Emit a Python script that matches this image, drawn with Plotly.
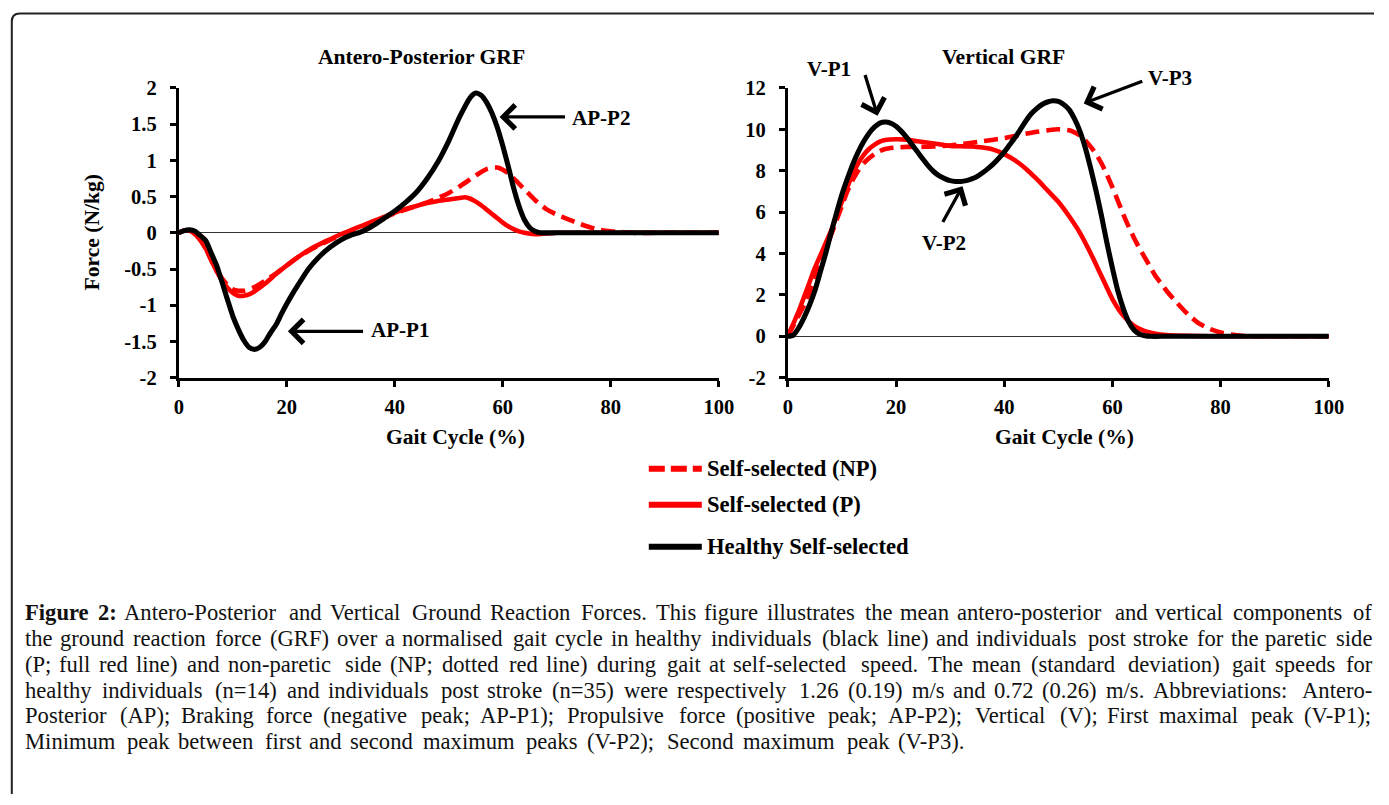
import plotly.graph_objects as go

W, H = 1389, 805
SERIF = "Liberation Serif, Times New Roman, serif"
RED = "#FF0000"

# ---------------- data ----------------
# Antero-posterior GRF (N/kg) vs gait cycle (%)
ap_h_x = [0, 1, 2, 3, 4, 5, 6, 7, 8, 9, 10, 11, 12, 13, 14, 15, 16, 17, 18, 19, 20, 21, 22,
          24, 26, 28, 30, 32, 34, 36, 38, 40, 42, 44, 46, 48, 50, 52, 54,
          55, 56, 57, 58, 59, 60, 61, 62, 63, 64, 65, 66, 67, 70, 80, 90, 100]
ap_healthy = [0, 0.03, 0.04, 0.02, -0.04, -0.11, -0.28, -0.45, -0.68, -0.92, -1.15, -1.33, -1.48, -1.58,
              -1.61, -1.58, -1.5, -1.38, -1.27, -1.12, -0.98, -0.85, -0.73,
              -0.5, -0.33, -0.2, -0.1, -0.03, 0.02, 0.1, 0.2, 0.3, 0.42, 0.56, 0.75, 0.98, 1.27, 1.6, 1.87,
              1.93, 1.9, 1.8, 1.65, 1.45, 1.2, 0.92, 0.62, 0.37, 0.18, 0.07, 0.02, 0, 0, 0, 0, 0]

ap_p_x = [0, 1, 2, 3, 4, 5, 6, 7, 8, 9, 10, 11, 12, 13, 14,
          16, 18, 20, 22, 24, 26, 28, 30, 32, 34, 36, 38, 40, 42, 44, 46, 48, 50, 52,
          53, 54, 55, 56, 57, 58, 59, 60, 61, 62, 63, 64, 66, 68, 70, 80, 90, 100]
ap_paretic = [0, 0.03, 0.03, -0.02, -0.1, -0.22, -0.38, -0.53, -0.66, -0.76, -0.83, -0.87, -0.87, -0.85, -0.81,
              -0.7, -0.57, -0.45, -0.34, -0.24, -0.16, -0.09, -0.02, 0.04, 0.1, 0.16, 0.22, 0.28, 0.33, 0.37,
              0.41, 0.44, 0.46, 0.48,
              0.49, 0.47, 0.43, 0.38, 0.32, 0.26, 0.2, 0.14, 0.09, 0.05, 0.02, 0.0, -0.02, -0.01, 0, 0, 0, 0]

ap_np_x = [0, 1, 2, 3, 4, 5, 6, 7, 8, 9, 10, 11, 12, 13, 14,
           16, 18, 20, 22, 24, 26, 28, 30, 32, 34, 36, 38, 40, 42, 44, 46, 48, 50, 52, 54, 56,
           57, 58, 59, 60, 61, 62, 64, 66, 68, 70, 72, 74, 76, 78, 80, 82, 84, 90, 100]
ap_nonparetic = [0, 0.03, 0.03, -0.02, -0.1, -0.22, -0.37, -0.51, -0.63, -0.72, -0.78, -0.8, -0.8, -0.78, -0.75,
                 -0.66, -0.56, -0.45, -0.34, -0.25, -0.17, -0.1, -0.03, 0.03, 0.09, 0.15, 0.21, 0.27, 0.32,
                 0.37, 0.42, 0.48, 0.55, 0.64, 0.74, 0.84,
                 0.88, 0.9, 0.9, 0.87, 0.82, 0.75, 0.6, 0.45, 0.33, 0.25, 0.19, 0.13, 0.08, 0.04, 0.02, 0.01,
                 0, 0, 0]

# Vertical GRF (N/kg) vs gait cycle (%)
v_h_x = [0, 1, 2, 3, 4, 5, 6, 7, 8, 9, 10, 11, 12, 13, 14, 15, 16, 17, 18, 19, 20, 21, 22, 23, 24,
         25, 26, 27, 28, 29, 30, 31, 32, 33, 34, 35, 36, 37, 38, 39, 40, 41, 42, 43, 44, 45, 46, 47,
         48, 49, 50, 51, 52, 53, 54, 55, 56, 57, 58, 59, 60, 61, 62, 63, 64, 65, 66, 67, 70, 80, 90, 100]
v_healthy = [0, 0.05, 0.4, 0.9, 1.5, 2.2, 3.1, 4.0, 5.0, 5.95, 6.85, 7.6, 8.3, 8.9, 9.4, 9.8, 10.1, 10.3,
             10.35, 10.3, 10.15, 9.9, 9.6, 9.25, 8.9,
             8.55, 8.22, 7.95, 7.75, 7.62, 7.52, 7.48, 7.48, 7.52, 7.6, 7.72, 7.9, 8.1, 8.33, 8.6, 8.9,
             9.25, 9.6, 10.0, 10.4, 10.75, 11.0, 11.2,
             11.32, 11.38, 11.35, 11.2, 10.95, 10.5, 9.9, 9.1, 8.1, 7.0, 5.8, 4.5, 3.3, 2.2, 1.35, 0.7,
             0.3, 0.1, 0.03, 0, 0, 0, 0, 0]

v_p_x = [0, 1, 2, 3, 4, 5, 6, 7, 8, 9, 10, 11, 12, 13, 14, 15, 16, 17, 18,
         20, 22, 24, 26, 28, 30, 32, 34, 36, 38, 40, 42, 44, 46, 48, 50, 52, 54, 56, 58, 60, 62, 64,
         66, 68, 70, 74, 78, 90, 100]
v_paretic = [0, 0.6, 1.2, 1.9, 2.6, 3.3, 3.9, 4.5, 5.1, 5.8, 6.5, 7.2, 7.85, 8.35, 8.75, 9.05, 9.25, 9.4, 9.48,
             9.52, 9.5, 9.42, 9.35, 9.28, 9.2, 9.18, 9.17, 9.12, 9.02, 8.8, 8.5, 8.1, 7.6, 7.05, 6.5, 5.8,
             5.0, 4.0, 2.9, 1.8, 1.0, 0.5, 0.25, 0.12, 0.06, 0.02, 0, 0, 0]

v_np_x = [0, 1, 2, 3, 4, 5, 6, 7, 8, 9, 10, 11, 12, 13, 14, 15, 16, 17, 18,
          20, 22, 24, 26, 28, 30, 32, 34, 36, 38, 40, 42, 44, 46, 48, 50,
          52, 53, 54, 55, 56, 57, 58, 59, 60, 61, 62, 63, 64, 65, 66, 67, 68, 69, 70,
          72, 74, 76, 78, 80, 82, 84, 86, 90, 100]
v_nonparetic = [0, 0.5, 1.0, 1.5, 2.1, 2.8, 3.5, 4.2, 4.9, 5.6, 6.3, 7.0, 7.55, 8.0, 8.35, 8.6, 8.8, 8.95, 9.05,
                9.12, 9.15, 9.15, 9.16, 9.18, 9.22, 9.28, 9.35, 9.42, 9.5, 9.58, 9.68, 9.78, 9.88, 9.95, 10.0,
                9.95, 9.85, 9.7, 9.45, 9.15, 8.8, 8.35, 7.8, 7.2, 6.55, 5.9, 5.3, 4.75, 4.25, 3.8, 3.35, 2.9,
                2.55, 2.2,
                1.6, 1.05, 0.62, 0.35, 0.18, 0.08, 0.02, 0, 0, 0]

series_names = ["Self-selected (NP)", "Self-selected (P)", "Healthy Self-selected"]

x_ticks = [0, 20, 40, 60, 80, 100]
x_tick_labels = ["0", "20", "40", "60", "80", "100"]
ap_ticks = [-2, -1.5, -1, -0.5, 0, 0.5, 1, 1.5, 2]
ap_tick_labels = ["-2", "-1.5", "-1", "-0.5", "0", "0.5", "1", "1.5", "2"]
v_ticks = [-2, 0, 2, 4, 6, 8, 10, 12]
v_tick_labels = ["-2", "0", "2", "4", "6", "8", "10", "12"]
ap_range = [-2, 2]
v_range = [-2, 12]
x_range = [0, 100]

chart_titles = ["Antero-Posterior GRF", "Vertical GRF"]
x_title = "Gait Cycle (%)"
y_title = "Force (N/kg)"

# peak labels: (label, text x, text y, arrow tail x, tail y, head x, head y)
ap_peaks = [("AP-P2", 72.4, 1.58, 71.8, 1.6, 59.4, 1.6),
            ("AP-P1", 35.2, -1.34, 34.4, -1.36, 20.2, -1.36)]
v_peaks = [("V-P1", 7.7, 12.9, 14.2, 12.7, 16.6, 10.65),
           ("V-P2", 28.9, 4.5, 28.5, 5.45, 32.3, 7.25),
           ("V-P3", 70.6, 12.48, 65.8, 12.35, 54.7, 11.25)]

caption_lines = [
    "Figure 2: Antero-Posterior and Vertical Ground Reaction Forces. This figure illustrates the mean antero-posterior and vertical components of",
    "the ground reaction force (GRF) over a normalised gait cycle in healthy individuals (black line) and individuals post stroke for the paretic side",
    "(P; full red line) and non-paretic side (NP; dotted red line) during gait at self-selected speed. The mean (standard deviation) gait speeds for",
    "healthy individuals (n=14) and individuals post stroke (n=35) were respectively 1.26 (0.19) m/s and 0.72 (0.26) m/s. Abbreviations: Antero-",
    "Posterior (AP); Braking force (negative peak; AP-P1); Propulsive force (positive peak; AP-P2); Vertical (V); First maximal peak (V-P1);",
    "Minimum peak between first and second maximum peaks (V-P2); Second maximum peak (V-P3).",
]

for xs, ys in [(ap_h_x, ap_healthy), (ap_p_x, ap_paretic), (ap_np_x, ap_nonparetic),
               (v_h_x, v_healthy), (v_p_x, v_paretic), (v_np_x, v_nonparetic)]:
    assert len(xs) == len(ys), (len(xs), len(ys))

# ---------------- helpers ----------------
# the photographed page is mapped onto the picture with a small offset/scale;
# positions below are given in picture pixels and converted to page pixels.
TX0, TSX = 5.2, 0.9856
TY0, TSY = 11.4, 0.9725
FS = 1.0 / TSY


def px2x(p):
    return ((p - TX0) / TSX) / W


def px2y(p):
    return 1 - ((p - TY0) / TSY) / H


fig = go.Figure()


def add_line(xs, ys, xa, ya, color, dash, width):
    fig.add_trace(go.Scatter(
        x=xs, y=ys, xaxis=xa, yaxis=ya, mode="lines",
        line=dict(color=color, width=width, dash=dash, shape="spline", smoothing=0.6),
        showlegend=False, hoverinfo="skip"))


DASH = "14px,7px"
add_line(ap_np_x, ap_nonparetic, "x", "y", RED, DASH, 4.6)
add_line(ap_p_x, ap_paretic, "x", "y", RED, "solid", 4.6)
add_line(ap_h_x, ap_healthy, "x", "y", "black", "solid", 5.1)
add_line(v_np_x, v_nonparetic, "x2", "y2", RED, DASH, 4.6)
add_line(v_p_x, v_paretic, "x2", "y2", RED, "solid", 4.6)
add_line(v_h_x, v_healthy, "x2", "y2", "black", "solid", 5.1)

TICKFONT = dict(family=SERIF, size=20 * FS, color="black", weight="bold")
axis_common = dict(showline=True, linecolor="black", linewidth=3, ticks="outside", ticklen=6,
                   tickwidth=3, tickcolor="black", showgrid=False, tickfont=TICKFONT,
                   fixedrange=True)
ydom = [px2y(378), px2y(88.3)]

fig.update_layout(
    width=W, height=H, margin=dict(l=0, r=0, t=0, b=0),
    paper_bgcolor="white", plot_bgcolor="white", showlegend=False,
    xaxis=dict(domain=[px2x(179), px2x(719)], range=x_range, anchor="y", tickvals=x_ticks,
               ticktext=x_tick_labels, zeroline=False, ticklabelstandoff=3, **axis_common),
    yaxis=dict(domain=ydom, range=ap_range, anchor="x", tickvals=ap_ticks, ticktext=ap_tick_labels,
               zeroline=True, zerolinecolor="#333", zerolinewidth=1, ticklabelstandoff=9,
               **axis_common),
    xaxis2=dict(domain=[px2x(788), px2x(1329)], range=x_range, anchor="y2", tickvals=x_ticks,
                ticktext=x_tick_labels, zeroline=False, ticklabelstandoff=3, **axis_common),
    yaxis2=dict(domain=ydom, range=v_range, anchor="x2", tickvals=v_ticks, ticktext=v_tick_labels,
                zeroline=True, zerolinecolor="#333", zerolinewidth=1, ticklabelstandoff=9,
                **axis_common),
)

BOLD = dict(family=SERIF, size=21 * FS, color="black")
LEG = dict(family=SERIF, size=22 * FS, color="black")
LBL = dict(family=SERIF, size=20.5 * FS, color="black")
ann = []
# chart titles and axis titles
ann.append(dict(text="<b>%s</b>" % chart_titles[0], x=px2x(422), y=px2y(57), font=BOLD))
ann.append(dict(text="<b>%s</b>" % chart_titles[1], x=px2x(1004), y=px2y(57), font=BOLD))
ann.append(dict(text="<b>%s</b>" % x_title, x=px2x(456), y=px2y(437), font=BOLD))
ann.append(dict(text="<b>%s</b>" % x_title, x=px2x(1065), y=px2y(437), font=BOLD))
ann.append(dict(text="<b>%s</b>" % y_title, x=px2x(92), y=px2y(233), font=BOLD, textangle=-90))
for a in ann:
    a.update(xref="paper", yref="paper", showarrow=False, xanchor="center", yanchor="middle")

# peak arrows (data coords) and labels (axis-domain coords so they may sit above the range)
for peaks, xr, yr, yrng in [(ap_peaks, "x", "y", ap_range), (v_peaks, "x2", "y2", v_range)]:
    for label, tx, ty, ax_, ay_, hx, hy in peaks:
        ann.append(dict(x=hx, y=hy, ax=ax_, ay=ay_, xref=xr, yref=yr, axref=xr, ayref=yr,
                        text="", showarrow=True, arrowhead=4, arrowsize=1.4, arrowwidth=3.3,
                        arrowcolor="black", standoff=0, startstandoff=0))
        anchor = "left" if label.startswith("AP") else "center"
        ann.append(dict(x=(tx - x_range[0]) / (x_range[1] - x_range[0]),
                        y=(ty - yrng[0]) / (yrng[1] - yrng[0]),
                        xref=xr + " domain", yref=yr + " domain", text="<b>%s</b>" % label,
                        showarrow=False, xanchor=anchor, yanchor="middle", font=LBL))

# legend (drawn manually to match the reference layout)
legend_rows = [469, 505, 547]
legend_styles = [(RED, "16px,6px"), (RED, "solid"), ("black", "solid")]
shapes = []
for name, yy, (col, dsh) in zip(series_names, legend_rows, legend_styles):
    shapes.append(dict(type="line", xref="paper", yref="paper", x0=px2x(649), x1=px2x(702),
                       y0=px2y(yy), y1=px2y(yy), line=dict(color=col, width=6, dash=dsh)))
    ann.append(dict(text="<b>%s</b>" % name, x=px2x(705), y=px2y(yy), xref="paper", yref="paper",
                    showarrow=False, xanchor="left", yanchor="middle", font=LEG))

# rounded frame, kept inside the page
r = 8
frame = ("M %f,%f L %f,%f Q %f,%f %f,%f L %f,%f" % (
    px2x(12), 0.0, px2x(12), px2y(14 + r), px2x(12), px2y(14), px2x(12 + r), px2y(14),
    1.0, px2y(14)))
shapes.append(dict(type="path", xref="paper", yref="paper", path=frame,
                   line=dict(color="#222", width=2)))

# caption, word by word (justified like the reference)
TNR = {' ': 250, '!': 333, '(': 333, ')': 333, ',': 250, '-': 333, '.': 250, '/': 278, ':': 278,
       ';': 278, '=': 564, '%': 833,
       'A': 722, 'B': 667, 'C': 667, 'D': 722, 'E': 611, 'F': 556, 'G': 722, 'H': 722, 'I': 333,
       'J': 389, 'K': 722, 'L': 611, 'M': 889, 'N': 722, 'O': 722, 'P': 556, 'Q': 722, 'R': 667,
       'S': 556, 'T': 611, 'U': 722, 'V': 722, 'W': 944, 'X': 722, 'Y': 722, 'Z': 611,
       'a': 444, 'b': 500, 'c': 444, 'd': 500, 'e': 444, 'f': 333, 'g': 500, 'h': 500, 'i': 278,
       'j': 278, 'k': 500, 'l': 278, 'm': 778, 'n': 500, 'o': 500, 'p': 500, 'q': 500, 'r': 333,
       's': 389, 't': 278, 'u': 500, 'v': 500, 'w': 722, 'x': 500, 'y': 500, 'z': 444}
TNR_B = {'F': 611, 'i': 278, 'g': 500, 'u': 556, 'r': 444, 'e': 444, ':': 333, ' ': 250}


def text_em(s, bold=False):
    tot = 0
    for ch in s:
        if ch.isdigit():
            tot += 500
        elif bold and ch in TNR_B:
            tot += TNR_B[ch]
        else:
            tot += TNR.get(ch, 500)
    return tot / 1000.0


CAP_FS = 22 * FS
cap_left = 25
cap_rights = [1372, 1372, 1372, 1372, 1372, 966]
for i, line in enumerate(caption_lines):
    yc = 613 + 25.8 * i
    words = line.split(" ")
    bolds = [(i == 0 and j < 2) for j in range(len(words))]
    widths = [text_em(w, b) * CAP_FS * TSX for w, b in zip(words, bolds)]
    starts = [0.0]
    for w in widths[:-1]:
        starts.append(starts[-1] + w + 0.25 * CAP_FS * TSX)
    k = (cap_rights[i] - cap_left - widths[-1]) / starts[-1]
    for w, b, s in zip(words, bolds, starts):
        ann.append(dict(text=("<b>%s</b>" % w) if b else w, x=px2x(cap_left + s * k), y=px2y(yc),
                        xref="paper", yref="paper", showarrow=False, xanchor="left",
                        yanchor="middle", borderpad=0, borderwidth=0,
                        font=dict(family=SERIF, size=CAP_FS, color="#111")))

fig.update_layout(annotations=ann, shapes=shapes)

fig.write_html("out.html", config={"displayModeBar": False, "staticPlot": True},
               post_script="document.body.style.margin='0';document.body.style.overflow='hidden';")
